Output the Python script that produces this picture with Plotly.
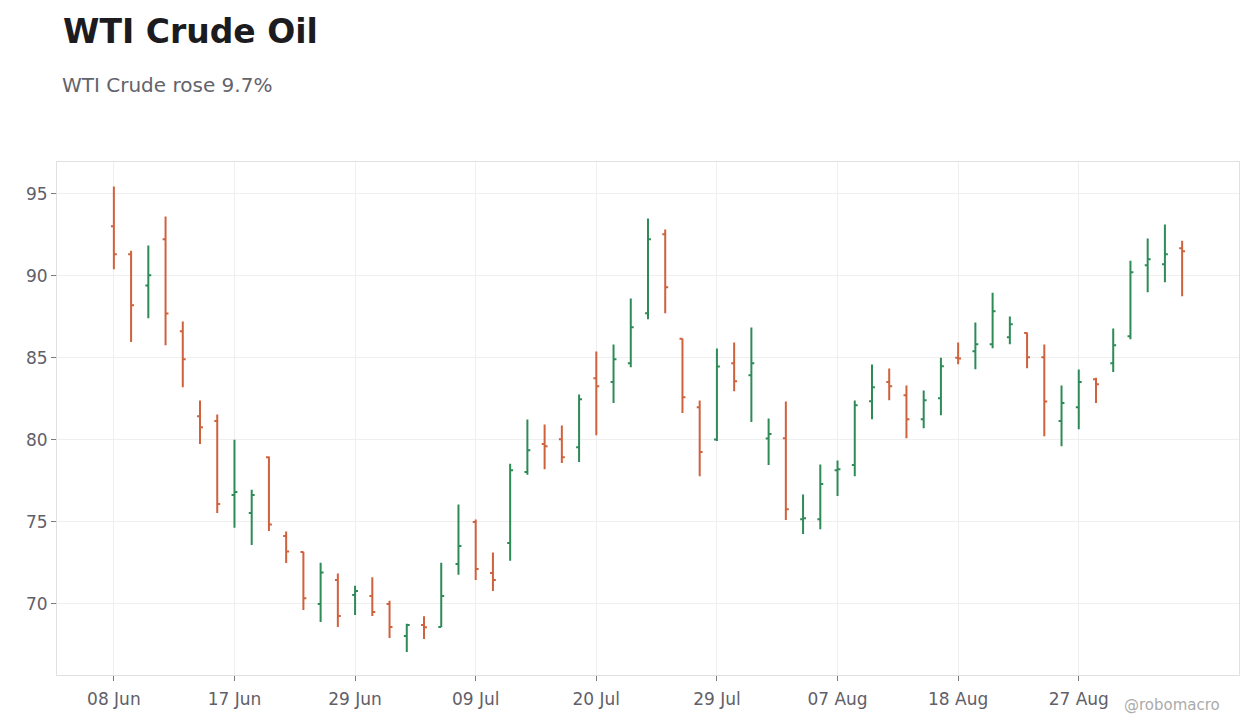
import plotly.graph_objects as go

dates = [
    "2023-06-08", "2023-06-09", "2023-06-12", "2023-06-13", "2023-06-14", "2023-06-15", "2023-06-16",
    "2023-06-17", "2023-06-19", "2023-06-20", "2023-06-21", "2023-06-23", "2023-06-26", "2023-06-27",
    "2023-06-29", "2023-06-30", "2023-07-03", "2023-07-05", "2023-07-06", "2023-07-07", "2023-07-08",
    "2023-07-09", "2023-07-10", "2023-07-11", "2023-07-12", "2023-07-13", "2023-07-14", "2023-07-17",
    "2023-07-20", "2023-07-21", "2023-07-24", "2023-07-25", "2023-07-26", "2023-07-27", "2023-07-28",
    "2023-07-29", "2023-07-31", "2023-08-01", "2023-08-02", "2023-08-03", "2023-08-04", "2023-08-05",
    "2023-08-07", "2023-08-08", "2023-08-09", "2023-08-10", "2023-08-14", "2023-08-15", "2023-08-16",
    "2023-08-18", "2023-08-21", "2023-08-22", "2023-08-23", "2023-08-24", "2023-08-25", "2023-08-26",
    "2023-08-27", "2023-08-28", "2023-08-29", "2023-08-30", "2023-08-31", "2023-09-01", "2023-09-04",
]

open_ = [93.03, 91.32, 89.41, 92.24, 86.63, 81.44, 81.14, 76.63, 75.53, 78.94,
         74.13, 73.15, 69.98, 71.44, 70.53, 70.47, 69.98, 68.03, 68.70, 68.58,
         72.42, 74.98, 71.87, 73.70, 78.03, 79.74, 80.04, 79.55, 83.76, 83.52,
         84.67, 87.72, 92.54, 86.16, 81.99, 80.02, 84.67, 83.94, 80.08, 80.10,
         75.16, 75.16, 78.15, 78.46, 82.36, 83.52, 82.72, 81.26, 82.54, 85.00,
         85.41, 85.83, 86.26, 86.52, 85.04, 81.14, 81.99, 83.70, 84.67, 86.32,
         90.65, 90.71, 91.69]

high = [95.45, 91.54, 91.85, 93.62, 87.22, 82.40, 81.54, 80.00, 76.96, 78.98,
        74.41, 73.17, 72.50, 71.85, 71.10, 71.61, 70.18, 68.78, 69.23, 72.50,
        76.06, 75.14, 73.13, 78.54, 81.24, 80.93, 80.87, 82.76, 85.39, 85.81,
        88.62, 93.50, 92.83, 86.18, 82.40, 85.57, 85.93, 86.85, 81.30, 82.34,
        76.67, 78.50, 78.74, 82.40, 84.59, 84.35, 83.31, 83.01, 85.00, 85.93,
        87.15, 88.98, 87.52, 86.54, 85.81, 83.31, 84.29, 83.78, 86.79, 90.93,
        92.28, 93.13, 92.15]

low = [90.41, 85.96, 87.42, 85.77, 83.21, 79.74, 75.53, 74.63, 73.58, 74.43,
       72.48, 69.61, 68.88, 68.58, 69.31, 69.25, 67.91, 67.05, 67.85, 68.58,
       71.77, 71.44, 70.77, 72.62, 77.87, 78.21, 78.58, 78.64, 80.28, 82.24,
       84.43, 87.36, 87.72, 81.63, 77.78, 79.92, 82.97, 81.08, 78.46, 75.10,
       74.25, 74.55, 76.57, 77.78, 81.26, 82.42, 80.10, 80.71, 81.50, 84.61,
       84.31, 85.59, 85.83, 84.37, 80.22, 79.61, 80.65, 82.24, 84.13, 86.14,
       89.00, 89.61, 88.76]

close = [91.32, 88.21, 90.04, 87.70, 84.92, 80.77, 76.08, 76.81, 76.63, 74.84,
         73.19, 70.33, 71.91, 69.25, 70.77, 69.49, 68.58, 68.70, 68.56, 70.47,
         73.52, 72.11, 71.44, 78.15, 79.37, 79.61, 78.94, 82.48, 83.27, 84.92,
         86.87, 92.24, 89.31, 82.60, 79.25, 84.47, 83.58, 84.67, 80.35, 75.77,
         75.22, 77.30, 78.20, 82.11, 83.21, 83.27, 81.26, 82.42, 84.49, 84.96,
         85.83, 87.85, 87.05, 85.04, 82.34, 82.24, 83.52, 83.39, 85.77, 90.22,
         91.02, 91.32, 91.50]

tick_dates = dates[::7]
tick_labels = ["08 Jun", "17 Jun", "29 Jun", "09 Jul", "20 Jul", "29 Jul", "07 Aug", "18 Aug", "27 Aug"]

title_text = "WTI Crude Oil"
subtitle_text = "WTI Crude rose 9.7%"
credit_text = "@robomacro"

GREEN = "#2E8B57"
RED = "#CF613D"
FONT = "DejaVu Sans"

W, H = 1260, 728
ML, MR, MT, MB = 49, 29, 154, 61
PW = W - ML - MR
PH = H - MT - MB

fig = go.Figure(
    go.Ohlc(
        x=dates, open=open_, high=high, low=low, close=close,
        increasing=dict(line=dict(color=GREEN, width=2)),
        decreasing=dict(line=dict(color=RED, width=2)),
        tickwidth=0.17,
        showlegend=False,
    )
)

axis_common = dict(
    showline=True, linecolor="#E0E0E0", linewidth=1, mirror=True,
    gridcolor="#EFEFEF", gridwidth=1,
    ticks="outside", ticklen=5, tickcolor="#7A7A80", tickwidth=1,
    tickfont=dict(family=FONT, size=17, color="#5F6069"),
    zeroline=False,
)

fig.update_layout(
    width=W, height=H,
    margin=dict(l=ML, r=MR, t=MT, b=MB),
    paper_bgcolor="white", plot_bgcolor="white",
    font=dict(family=FONT),
    xaxis=dict(
        type="category",
        range=[-3.3, 65.3],
        tickmode="array", tickvals=tick_dates, ticktext=tick_labels,
        rangeslider=dict(visible=False),
        ticklabelstandoff=4,
        **axis_common,
    ),
    yaxis=dict(
        range=[65.65, 96.95],
        tickmode="linear", tick0=70, dtick=5,
        **axis_common,
    ),
    title=dict(
        text="<b>" + title_text + "</b>",
        xref="container", yref="container",
        x=55 / W, xanchor="left",
        y=1 - 23 / H, yanchor="middle",
        font=dict(family=FONT, size=33, color="#1B1B20"),
    ),
    annotations=[
        dict(
            text=subtitle_text, xref="paper", yref="paper",
            x=(52 - ML) / PW, xanchor="left",
            y=(MT + PH - 77) / PH, yanchor="middle",
            showarrow=False,
            font=dict(family=FONT, size=20, color="#62636B"),
        ),
        dict(
            text=credit_text, xref="paper", yref="paper",
            x=(1164 - ML) / PW, xanchor="center",
            y=(MT + PH - 697) / PH, yanchor="middle",
            showarrow=False,
            font=dict(family=FONT, size=15, color="#ABABAB"),
        ),
    ],
)

fig.write_html("out.html")
